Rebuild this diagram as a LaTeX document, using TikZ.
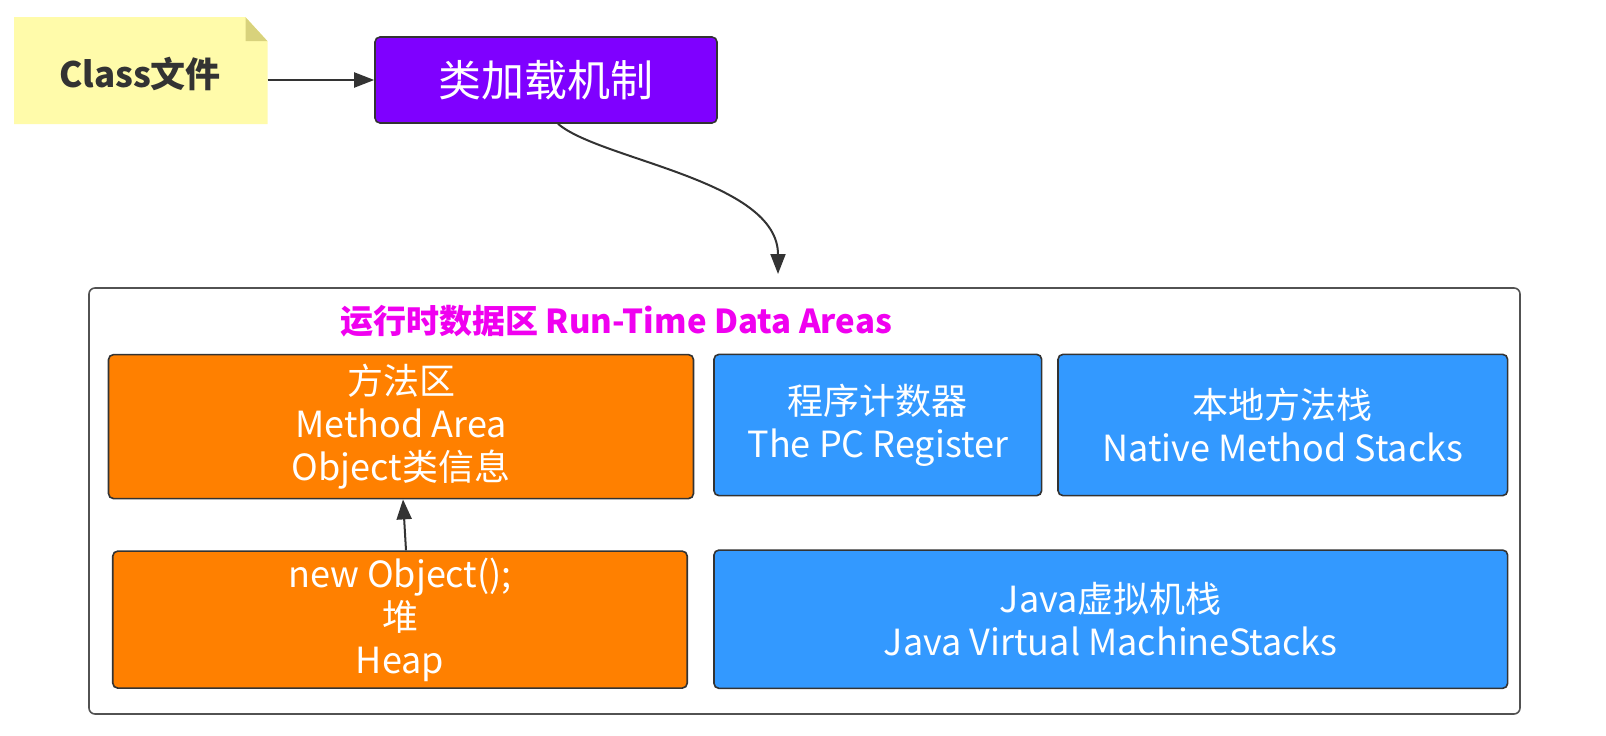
\documentclass[tikz,border=0pt]{standalone}
\usepackage{fontspec}
\setmainfont{Noto Sans CJK SC}
\usetikzlibrary{arrows.meta,calc}
\definecolor{notefill}{HTML}{FFFBAA}
\definecolor{notefold}{HTML}{D8D27C}
\definecolor{loaderfill}{HTML}{7F00FF}
\definecolor{areaorange}{HTML}{FF8000}
\definecolor{areablue}{HTML}{3399FF}
\definecolor{titlemag}{HTML}{F000F0}
\definecolor{edgegray}{HTML}{333333}
\tikzset{
  areabox/.style={draw=edgegray, line width=1.6pt, rounded corners=5pt, inner sep=0pt,
    text=white, align=center, font=\fontsize{36}{43}\selectfont},
  orangebox/.style={areabox, fill=areaorange},
  bluebox/.style={areabox, fill=areablue},
  link/.style={draw=edgegray, line width=2pt, -{Triangle[length=20pt,width=15pt]}},
}
\begin{document}
\begin{tikzpicture}[x=1pt,y=-1pt]
\useasboundingbox (0,0) rectangle (1606,736);
% note
\node[minimum width=253pt, minimum height=106.6pt, inner sep=0pt] (note) at (140.8,70.7) {};
\fill[notefill] (note.north west) -- ($(note.north east)+(-22,0)$) -- ($(note.north east)+(0,24)$) -- (note.south east) -- (note.south west) -- cycle;
\fill[notefold] ($(note.north east)+(-22,0)$) -- ($(note.north east)+(0,24)$) -- ($(note.north east)+(-22,24)$) -- cycle;
\node[text=edgegray, font=\fontsize{35}{42}\selectfont\bfseries] (notetext) at (140,74) {Class文件};
% loader
\node[draw=edgegray, line width=1.6pt, rounded corners=5pt, fill=loaderfill, inner sep=0pt,
  minimum width=342pt, minimum height=86pt, text=white, font=\fontsize{43}{50}\selectfont] (loader) at (546,80) {类加载机制};
\draw[link] (note.east |- loader.west) -- (loader.west);
% runtime data areas
\node[draw=edgegray!85, line width=1.6pt, rounded corners=6pt, minimum width=1431pt, minimum height=426pt, inner sep=0pt] (rtda) at (804.5,501) {};
\node[text=titlemag, font=\fontsize{33}{40}\selectfont\bfseries] (title) at (616,321) {运行时数据区 Run-Time Data Areas};
\coordinate (tip) at (778,274);
\draw[link] ($(loader.south)+(12,0)$) .. controls (600,160) and (778,180) .. (tip);
\node[orangebox, minimum width=585pt, minimum height=144pt] (method) at (401,426.6) {\strut 方法区\\Method Area\\Object类信息};
\node[orangebox, minimum width=574.5pt, minimum height=137pt] (heap) at (400,619.6) {\strut new Object();\\堆\\Heap};
\node[bluebox, minimum width=327.7pt, minimum height=141.3pt] (pc) at (877.8,425) {\strut 程序计数器\\The PC Register};
\node[bluebox, minimum width=449.6pt, minimum height=141.3pt] (native) at (1282.8,425) {\strut 本地方法栈\\Native Method Stacks};
\node[bluebox, minimum width=793.7pt, minimum height=138.3pt] (jvm) at (1110.8,619.2) {\strut Java虚拟机栈\\Java Virtual MachineStacks};
\draw[link] ($(heap.north)+(6,0)$) -- ($(method.south)+(2,0)$);
\end{tikzpicture}
\end{document}
